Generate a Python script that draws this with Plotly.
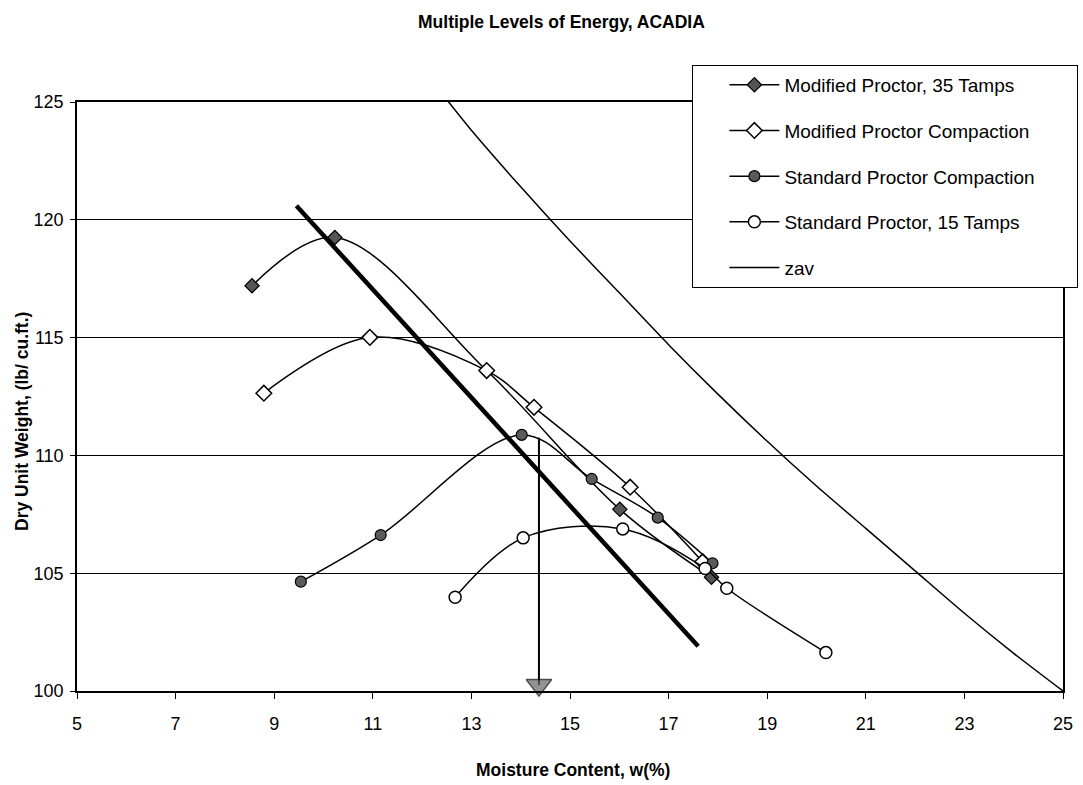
import plotly.graph_objects as go

# ---- data ----
mod35_x = [8.55, 10.23, 13.31, 16.01, 17.87]
mod35_y = [117.2, 119.25, 113.6, 107.71, 104.83]

modc_x = [8.79, 10.94, 13.31, 14.27, 16.22, 17.69]
modc_y = [112.64, 115.01, 113.6, 112.04, 108.65, 105.49]

stdc_x = [9.54, 11.16, 14.02, 15.44, 16.78, 17.89]
stdc_y = [104.64, 106.62, 110.87, 109.0, 107.36, 105.42]

std15_x = [12.67, 14.05, 16.07, 17.74, 18.18, 20.19]
std15_y = [103.98, 106.5, 106.88, 105.2, 104.36, 101.63]

zav_x = [12.5, 13, 14, 15, 16, 17, 18, 19, 20, 21, 22, 23, 24, 25]
zav_y = [125.1, 123.8, 121.4, 119.1, 116.9, 114.7, 112.6, 110.6, 108.7, 106.9, 105.1, 103.3, 101.6, 100.0]

opt_x = [9.45, 17.6]
opt_y = [120.6, 101.9]

arrow_x = [14.37, 14.37]
arrow_y = [110.75, 100.25]

names = ["Modified Proctor, 35 Tamps", "Modified Proctor Compaction",
         "Standard Proctor Compaction", "Standard Proctor, 15 Tamps", "zav"]

title_text = "Multiple Levels of Energy, ACADIA"
x_title = "Moisture Content, w(%)"
y_title = "Dry Unit Weight, (lb/ cu.ft.)"

FONT = "Liberation Sans, Arial, sans-serif"
PAD = "\u00a0" * 7

fig = go.Figure()

line = dict(color="black", width=1.5, shape="spline", smoothing=1)

fig.add_trace(go.Scatter(x=mod35_x, y=mod35_y, mode="lines+markers", name=names[0] + PAD,
                         legendgroup="a", line=line,
                         marker=dict(symbol="diamond", size=11, color="#555555",
                                     line=dict(color="black", width=1.2))))
fig.add_trace(go.Scatter(x=modc_x, y=modc_y, mode="lines+markers", name=names[1] + PAD,
                         legendgroup="b", line=line,
                         marker=dict(symbol="diamond", size=12, color="white",
                                     line=dict(color="black", width=1.5))))
fig.add_trace(go.Scatter(x=stdc_x, y=stdc_y, mode="lines+markers", name=names[2] + PAD,
                         legendgroup="c", line=line,
                         marker=dict(symbol="circle", size=11, color="#5a5a5a",
                                     line=dict(color="black", width=1.2))))
fig.add_trace(go.Scatter(x=std15_x, y=std15_y, mode="lines+markers", name=names[3] + PAD,
                         legendgroup="d", line=line,
                         marker=dict(symbol="circle", size=12, color="white",
                                     line=dict(color="black", width=1.5))))
fig.add_trace(go.Scatter(x=zav_x, y=zav_y, mode="lines", name=names[4],
                         legendgroup="e",
                         line=dict(color="black", width=1.5, shape="spline", smoothing=0.6)))
fig.add_trace(go.Scatter(x=opt_x, y=opt_y, mode="lines", showlegend=False,
                         line=dict(color="black", width=4.5)))
fig.add_trace(go.Scatter(x=arrow_x, y=arrow_y, mode="lines+markers", showlegend=False,
                         cliponaxis=False,
                         line=dict(color="black", width=2),
                         marker=dict(symbol=["circle", "triangle-down"], size=[0.1, 22],
                                     color="#666666", line=dict(color="black", width=1.5))))

fig.update_layout(
    width=1083, height=785,
    margin=dict(l=77, r=20, t=102, b=94, autoexpand=False),
    paper_bgcolor="white", plot_bgcolor="white",
    font=dict(family=FONT, size=18, color="black"),
    showlegend=True,
    legend=dict(x=0.624, y=1.063, xanchor="left", yanchor="top",
                bordercolor="black", borderwidth=1, bgcolor="white",
                font=dict(family=FONT, size=19, color="black"),
                title=dict(text="\u00a0" * 4, side="left", font=dict(size=19)),
                tracegroupgap=18, itemwidth=50, traceorder="grouped"),
    xaxis=dict(range=[5, 25], dtick=2, tick0=5, showgrid=False, zeroline=False,
               showline=True, linecolor="black", linewidth=1.5, mirror=True,
               ticks="outside", ticklen=6, tickcolor="black", ticklabelstandoff=10,
               tickfont=dict(family=FONT, size=18)),
    yaxis=dict(range=[100, 125], dtick=5, showgrid=True, gridcolor="black", gridwidth=1,
               zeroline=False, showline=True, linecolor="black", linewidth=1.5, mirror=True,
               ticks="outside", ticklen=5, tickcolor="black", ticklabelstandoff=3,
               tickfont=dict(family=FONT, size=18)),
    annotations=[
        dict(text="<b>" + title_text + "</b>", xref="paper", yref="paper",
             x=(561 - 77) / 986, y=(691 - 22) / 589, xanchor="center", yanchor="middle",
             showarrow=False, font=dict(family=FONT, size=17.5)),
        dict(text="<b>" + x_title + "</b>", xref="paper", yref="paper",
             x=(573 - 77) / 986, y=(691 - 770) / 589, xanchor="center", yanchor="middle",
             showarrow=False, font=dict(family=FONT, size=17.5)),
        dict(text="<b>" + y_title + "</b>", xref="paper", yref="paper",
             x=(22 - 77) / 986, y=(691 - 422) / 589, xanchor="center", yanchor="middle",
             showarrow=False, textangle=-90, font=dict(family=FONT, size=17.5)),
    ],
)

fig.write_html("out.html")
